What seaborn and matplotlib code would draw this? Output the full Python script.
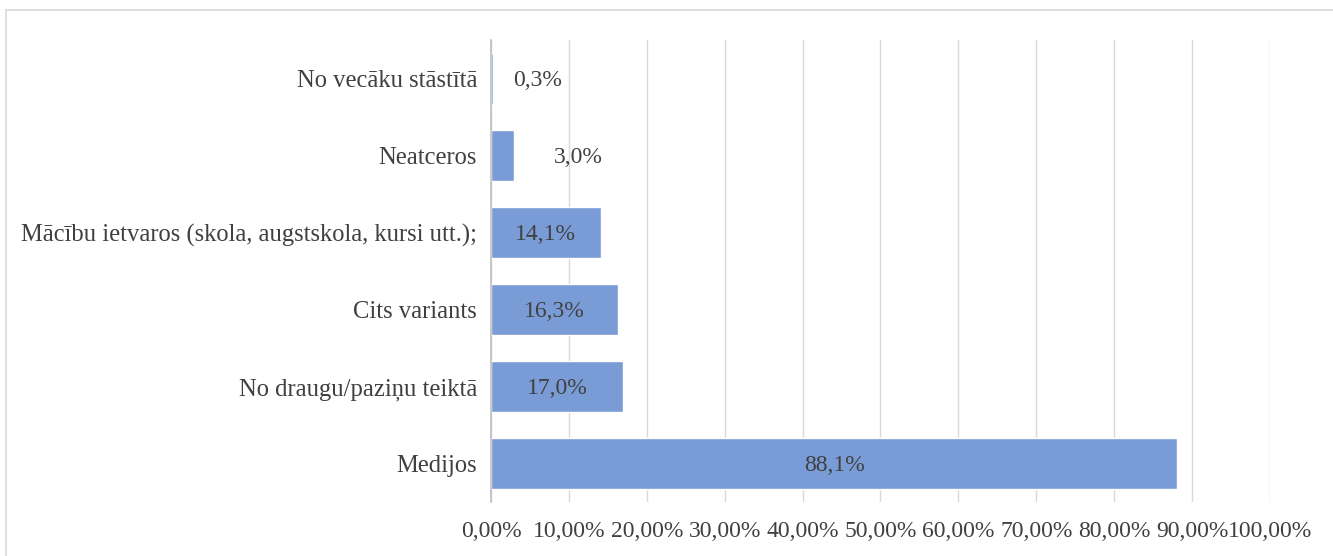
import matplotlib
matplotlib.use("Agg")
import matplotlib.pyplot as plt
import seaborn as sns
import pandas as pd
from matplotlib.patches import Rectangle
from matplotlib.ticker import FuncFormatter

# ----- data -----
categories = [
    "No vecāku stāstītā",
    "Neatceros",
    "Mācību ietvaros (skola, augstskola, kursi utt.);",
    "Cits variants",
    "No draugu/paziņu teiktā",
    "Medijos",
]
values = [0.3, 3.0, 14.1, 16.3, 17.0, 88.1]
value_labels = ["0,3%", "3,0%", "14,1%", "16,3%", "17,0%", "88,1%"]

df = pd.DataFrame({"category": categories, "value": values})

sns.set_theme(style="white")
plt.rcParams["font.family"] = ["Liberation Serif", "DejaVu Serif"]

text_col = "#404040"
bar_col = "#7A9CD6"
fs = 17

fig = plt.figure(figsize=(13.33, 5.56), dpi=100)
ax = fig.add_axes([0.3683, 0.0971, 0.9527 - 0.3683, 0.928 - 0.0971])

sns.barplot(data=df, x="value", y="category", color=bar_col, saturation=1,
            width=0.66, ax=ax, zorder=2)

# data labels: centred inside long bars, just after short ones
for i, (v, lab) in enumerate(zip(values, value_labels)):
    if v > 10:
        xpos = v / 2
    else:
        xpos = v + 8.2 if v > 1 else v + 5.7
    ax.text(xpos, i + 0.02, lab, ha="center", va="center", fontsize=fs,
            color=text_col, zorder=3)

ax.set_xlim(0, 100)
ax.set_ylim(5.5, -0.5)
ax.set_xticks(range(0, 101, 10))
ax.xaxis.set_major_formatter(FuncFormatter(lambda x, p: f"{x:.2f}%".replace(".", ",")))
ax.grid(axis="x", color="#D9D9D9", linewidth=1, zorder=0)
ax.set_axisbelow(True)

for s in ["top", "right", "bottom"]:
    ax.spines[s].set_visible(False)
ax.spines["left"].set_color("#BFBFBF")
ax.spines["left"].set_linewidth(1.2)
ax.spines["left"].set_zorder(4)

ax.tick_params(axis="x", length=0, pad=14, labelsize=fs, labelcolor=text_col)
ax.tick_params(axis="y", length=0, pad=10, labelsize=17.7, labelcolor=text_col)
ax.set_xlabel("")
ax.set_ylabel("")

# chart area border
fig.patches.append(Rectangle((6 / 1333, -0.1), 1.2, 1 - 10 / 556 + 0.1,
                             transform=fig.transFigure, fill=False,
                             edgecolor="#D9D9D9", linewidth=1.2))

fig.savefig("out.png", dpi=100)
